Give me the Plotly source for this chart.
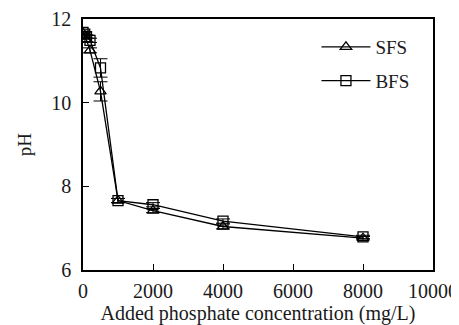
import plotly.graph_objects as go

conc = [0, 50, 100, 200, 500, 1000, 2000, 4000, 8000]
sfs_ph = [11.66, 11.60, 11.50, 11.25, 10.27, 7.66, 7.42, 7.04, 6.76]
sfs_err = [0.03, 0.03, 0.04, 0.06, 0.23, 0.05, 0.05, 0.06, 0.04]
bfs_ph = [11.68, 11.64, 11.58, 11.49, 10.83, 7.66, 7.56, 7.17, 6.79]
bfs_err = [0.03, 0.03, 0.04, 0.05, 0.22, 0.05, 0.05, 0.05, 0.04]

FONT = "Liberation Serif, Times New Roman, serif"
TXT = "#1a1a1a"

fig = go.Figure()
fig.add_trace(go.Scatter(
    x=conc, y=sfs_ph, name="SFS", mode="lines+markers", legendgroup="a",
    line=dict(color="black", width=1.3),
    marker=dict(symbol="triangle-up-open", size=10, color="black", line=dict(width=1.3)),
    error_y=dict(type="data", array=sfs_err, visible=True, color="black", thickness=1, width=7),
))
fig.add_trace(go.Scatter(
    x=conc, y=bfs_ph, name="BFS", mode="lines+markers", legendgroup="b",
    line=dict(color="black", width=1.3),
    marker=dict(symbol="square-open", size=10, color="black", line=dict(width=1.3)),
    error_y=dict(type="data", array=bfs_err, visible=True, color="black", thickness=1, width=7),
))

fig.update_layout(
    width=451, height=317,
    margin=dict(l=75, r=26, t=11, b=55),
    paper_bgcolor="white", plot_bgcolor="white",
    font=dict(family=FONT, size=20, color=TXT),
    showlegend=True,
    legend=dict(x=0.667, y=0.964, xanchor="left", yanchor="top",
                bgcolor="rgba(0,0,0,0)", font=dict(size=19, family=FONT, color=TXT),
                itemwidth=49, tracegroupgap=6),
    xaxis=dict(range=[0, 10000], dtick=2000, tick0=0, tickformat="d",
               ticks="inside", ticklen=6, ticklabelstandoff=2, automargin=False,
               tickcolor="black", showline=True, linecolor="black", linewidth=1.5,
               mirror=True, showgrid=False, zeroline=False,
               tickfont=dict(size=20, family=FONT, color=TXT),
               title=dict(text="Added phosphate concentration (mg/L)", standoff=0,
                          font=dict(size=20, family=FONT, color=TXT))),
    yaxis=dict(range=[6, 12], dtick=2, tick0=6, ticks="inside", ticklen=6,
               tickcolor="black", showline=True, linecolor="black", linewidth=1.5,
               mirror=True, showgrid=False, zeroline=False, ticklabelstandoff=6,
               automargin=False,
               tickfont=dict(size=20, family=FONT, color=TXT),
               title=dict(text="pH", standoff=15, font=dict(size=19, family=FONT, color=TXT))),
)

fig.write_html("out.html")
